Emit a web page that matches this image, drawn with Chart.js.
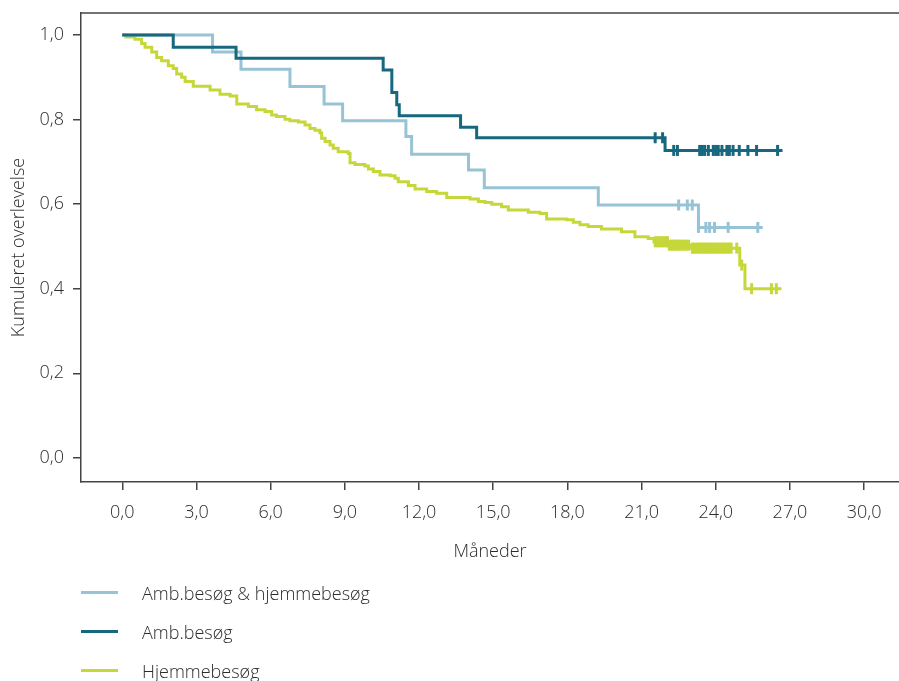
<!DOCTYPE html>
<html><head><meta charset="utf-8">
<script src="https://cdn.jsdelivr.net/npm/chart.js@4.4.1/dist/chart.umd.min.js"></script>
<style>
html,body{margin:0;padding:0;background:#fff;}
#wrap{position:relative;width:899px;height:681px;overflow:hidden;}
#c{position:absolute;left:0;top:0;}
#legend{position:absolute;left:81px;top:573px;font-family:'Open Sans',sans-serif;font-weight:300;font-size:18px;color:#2c2c2c;}
.item{height:39px;display:flex;align-items:center;white-space:nowrap;}
.swatch{width:37px;height:3px;margin-right:24px;}
</style></head>
<body>
<div id="wrap"><canvas id="c" width="899" height="681"></canvas><div id="legend"></div></div>
<script>
// ---- data ----
const seriesNames = ['Amb.besøg & hjemmebesøg', 'Amb.besøg', 'Hjemmebesøg'];
const seriesColors = ['#96C3D5', '#17687E', '#C6D73A'];

const bothTimes = [0, 3.65, 4.8, 6.78, 8.16, 8.91, 11.47, 11.7, 14.0, 14.64, 19.25, 23.3, 25.9];
const bothSurv  = [1.0, 0.960, 0.919, 0.878, 0.837, 0.797, 0.760, 0.718, 0.681, 0.639, 0.598, 0.545, 0.545];
const bothCensor = [22.5, 22.85, 23.05, 23.3, 23.6, 23.75, 23.95, 24.5, 25.7];

const ambTimes = [0, 2.06, 4.6, 10.55, 10.9, 11.1, 11.2, 13.68, 14.33, 21.95, 26.7];
const ambSurv  = [1.0, 0.971, 0.945, 0.917, 0.864, 0.835, 0.809, 0.782, 0.757, 0.727, 0.727];
const ambCensor = [21.55, 21.85, 22.3, 22.45, 23.35, 23.45, 23.55, 23.7, 23.9, 24.0, 24.1, 24.25, 24.45, 24.55, 24.7, 24.95, 25.3, 25.65, 26.5];

const homeTimes = [0, 0.15, 0.51, 0.78, 0.92, 1.19, 1.39, 1.59, 1.86, 2.06, 2.2, 2.4, 2.54, 2.87, 3.55,
  3.95, 4.36, 4.63, 5.1, 5.43, 5.77, 6.04, 6.24, 6.58, 6.78, 7.12, 7.39, 7.59, 7.79, 7.99,
  8.06, 8.2, 8.4, 8.53, 8.73, 9.14, 9.21, 9.41, 9.81, 9.95, 10.15, 10.42, 10.83, 11.03, 11.16,
  11.57, 11.84, 12.31, 12.71, 13.12, 14.06, 14.4, 14.67, 14.94, 15.34, 15.61, 16.42, 16.89, 17.16, 17.97,
  18.24, 18.51, 18.84, 19.38, 20.19, 20.73, 21.27, 21.5, 22.1, 22.95, 24.97, 25.18, 26.66];
const homeSurv = [1.0, 0.995, 0.990, 0.980, 0.971, 0.960, 0.947, 0.939, 0.927, 0.921, 0.908, 0.900, 0.890, 0.879, 0.870,
  0.860, 0.856, 0.837, 0.831, 0.823, 0.819, 0.811, 0.807, 0.801, 0.797, 0.794, 0.787, 0.779, 0.775, 0.769,
  0.756, 0.748, 0.740, 0.732, 0.724, 0.720, 0.698, 0.694, 0.690, 0.683, 0.677, 0.669, 0.667, 0.661, 0.653,
  0.644, 0.636, 0.630, 0.626, 0.616, 0.612, 0.606, 0.604, 0.600, 0.594, 0.586, 0.581, 0.578, 0.565, 0.563,
  0.557, 0.551, 0.547, 0.541, 0.535, 0.523, 0.519, 0.511, 0.503, 0.496, 0.456, 0.400, 0.400];
const homeCensor = [21.55, 21.62, 21.7, 21.78, 21.85, 21.92, 22.0, 22.05, 22.12, 22.2, 22.27, 22.35, 22.42, 22.5,
  22.6, 22.7, 22.8, 22.9, 23.05, 23.12, 23.2, 23.27, 23.35, 23.42, 23.5, 23.57, 23.65, 23.72, 23.8, 23.87,
  23.95, 24.02, 24.1, 24.17, 24.25, 24.32, 24.4, 24.47, 24.55, 24.62, 24.85, 25.05, 25.45, 26.25, 26.45];

const xTicks = [0, 3, 6, 9, 12, 15, 18, 21, 24, 27, 30];
const yTicks = [0, 0.2, 0.4, 0.6, 0.8, 1.0];
const xTitle = 'Måneder';
const yTitle = 'Kumuleret overlevelse';

// ---- build datasets ----
function stepAt(times, surv, t) {
  let v = surv[0];
  for (let i = 0; i < times.length; i++) { if (times[i] <= t) v = surv[i]; }
  return v;
}
const curves = [[bothTimes, bothSurv, bothCensor], [ambTimes, ambSurv, ambCensor], [homeTimes, homeSurv, homeCensor]];
const drawOrder = [1, 0, 2];
const datasets = [];
curves.forEach(([T, S, C], k) => {
  datasets.push({
    label: seriesNames[k],
    data: T.map((t, i) => ({x: t, y: S[i]})),
    stepped: 'before', borderColor: seriesColors[k], borderWidth: 3,
    pointRadius: 0, fill: false, order: drawOrder[k] + 3
  });
  datasets.push({
    label: seriesNames[k] + ' censur',
    data: C.map(t => ({x: t, y: stepAt(T, S, t)})),
    showLine: false, pointStyle: 'line', rotation: 90, pointRadius: 5.5,
    pointBorderWidth: 3, pointBorderColor: seriesColors[k], pointBackgroundColor: seriesColors[k],
    borderColor: seriesColors[k], order: drawOrder[k]
  });
});

const FONT = {family: "'Open Sans', sans-serif", size: 18, weight: 300};
const TXT = '#2c2c2c';
const AX = '#444444';
const fmt = v => Number(v).toFixed(1).replace('.', ',');

const topLine = {
  id: 'topLine',
  afterDraw(chart) {
    const {ctx, chartArea: a} = chart;
    ctx.save(); ctx.strokeStyle = AX; ctx.lineWidth = 1.5;
    ctx.beginPath(); ctx.moveTo(a.left, a.top); ctx.lineTo(a.right, a.top); ctx.stroke();
    ctx.restore();
  }
};

new Chart(document.getElementById('c'), {
  type: 'line',
  data: {datasets},
  plugins: [topLine],
  options: {
    responsive: false, animation: false, devicePixelRatio: 1,
    layout: {autoPadding: false, padding: {top: 13, right: 0, bottom: 116, left: 0}},
    plugins: {legend: {display: false}, tooltip: {enabled: false}},
    scales: {
      x: {
        type: 'linear', min: -1.67, max: 31.41,
        afterBuildTicks: s => { s.ticks = xTicks.map(v => ({value: v})); },
        afterFit: s => { s.height = 83; s.paddingLeft = 0; s.paddingRight = 0; },
        ticks: {callback: fmt, font: FONT, color: TXT, padding: 12, maxRotation: 0, autoSkip: false},
        grid: {drawOnChartArea: false, drawTicks: true, tickLength: 8, color: AX, lineWidth: 1.5},
        border: {display: true, color: AX, width: 1.5},
        title: {display: true, text: xTitle, font: FONT, color: TXT, padding: {top: 0, bottom: 2}}
      },
      y: {
        type: 'linear', min: -0.057, max: 1.052,
        afterBuildTicks: s => { s.ticks = yTicks.map(v => ({value: v})); },
        afterFit: s => { s.width = 81; s.paddingTop = 0; s.paddingBottom = 0; },
        ticks: {callback: fmt, font: FONT, color: TXT, padding: 9, autoSkip: false},
        grid: {drawOnChartArea: false, drawTicks: true, tickLength: 8, color: AX, lineWidth: 1.5},
        border: {display: true, color: AX, width: 1.5},
        title: {display: true, text: yTitle, font: FONT, color: TXT, padding: {top: 8, bottom: 0}}
      }
    }
  }
});

// ---- HTML legend ----
const lg = document.getElementById('legend');
seriesNames.forEach((n, k) => {
  const row = document.createElement('div'); row.className = 'item';
  const sw = document.createElement('span'); sw.className = 'swatch'; sw.style.background = seriesColors[k];
  const tx = document.createElement('span'); tx.textContent = n;
  row.appendChild(sw); row.appendChild(tx); lg.appendChild(row);
});
</script>
</body></html>
